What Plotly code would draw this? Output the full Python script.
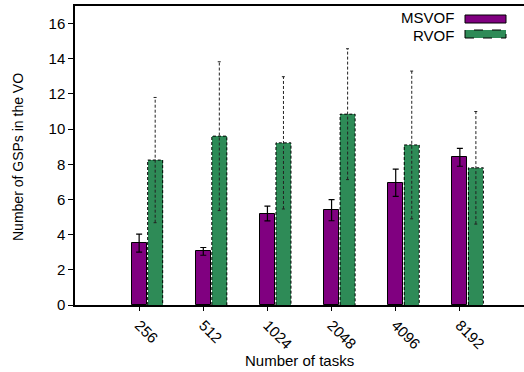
import plotly.graph_objects as go

# Number of tasks (category labels)
tasks = ["256", "512", "1024", "2048", "4096", "8192"]

# Mean number of GSPs in the VO and the half-width of the error bars
msvof_mean = [3.52, 3.05, 5.20, 5.39, 6.95, 8.40]
msvof_err = [0.51, 0.22, 0.42, 0.60, 0.77, 0.51]
rvof_mean = [8.24, 9.60, 9.22, 10.85, 9.10, 7.80]
rvof_err = [3.56, 4.23, 3.76, 3.72, 4.20, 3.20]

PURPLE = "#800080"
GREEN = "#2e8b57"
FONT = "Liberation Sans, Arial, sans-serif"

BAR_W = 0.234
OFFSET = 0.25
CAP = 0.025

W, H = 524, 372
ML, MR, MT, MB = 75, 0, 6, 67

xs_m = [i + 1 for i in range(len(tasks))]
xs_r = [i + 1 + OFFSET for i in range(len(tasks))]

fig = go.Figure()

fig.add_trace(go.Bar(
    x=xs_m, y=msvof_mean, width=BAR_W, name="MSVOF",
    marker=dict(color=PURPLE, line=dict(color="black", width=1)),
    error_y=dict(type="data", array=msvof_err, color="black", thickness=1.2, width=3),
    showlegend=False,
))

fig.add_trace(go.Bar(
    x=xs_r, y=rvof_mean, width=BAR_W, name="RVOF",
    marker=dict(color=GREEN, line=dict(color=GREEN, width=0)),
    showlegend=False,
))

# dashed outline of the RVOF bars
ox, oy = [], []
for x, v in zip(xs_r, rvof_mean):
    l, r = x - BAR_W / 2, x + BAR_W / 2
    ox += [l, l, r, r, None]
    oy += [0, v, v, 0, None]
fig.add_trace(go.Scatter(
    x=ox, y=oy, mode="lines", showlegend=False, hoverinfo="skip",
    line=dict(color="black", width=1, dash="3px,2px"),
))

# dashed error bars of the RVOF series
ex, ey = [], []
for x, v, e in zip(xs_r, rvof_mean, rvof_err):
    ex += [x, x, None, x - CAP, x + CAP, None, x - CAP, x + CAP, None]
    ey += [v - e, v + e, None, v + e, v + e, None, v - e, v - e, None]
fig.add_trace(go.Scatter(
    x=ex, y=ey, mode="lines", showlegend=False, hoverinfo="skip",
    line=dict(color="#222222", width=1, dash="3px,2px"),
))

fig.update_layout(
    width=W, height=H,
    margin=dict(l=ML, r=MR, t=MT, b=MB, autoexpand=False),
    plot_bgcolor="white", paper_bgcolor="white",
    barmode="overlay", bargap=0,
    font=dict(family=FONT, size=15, color="black"),
)

fig.update_xaxes(
    range=[0, 7], tickmode="array", tickvals=xs_m, ticktext=tasks,
    tickangle=45, ticks="outside", ticklen=4, tickwidth=1, tickcolor="black",
    showline=True, linecolor="black", linewidth=1.5, mirror=True,
    showgrid=False, zeroline=False, automargin=False,
)
fig.update_yaxes(
    range=[0, 17], tickmode="array", tickvals=list(range(0, 17, 2)),
    ticks="outside", ticklen=5, tickwidth=1, tickcolor="black",
    showline=True, linecolor="black", linewidth=1.5,
    showgrid=False, zeroline=False, automargin=False,
)

# pixel -> paper coordinate helpers
def px(xp):
    return (xp - ML) / (W - ML - MR)
def py(yp):
    return 1 - (yp - MT) / (H - MT - MB)

# axis titles
fig.add_annotation(
    x=px(299.5), y=py(360), xref="paper", yref="paper", text="Number of tasks",
    showarrow=False, xanchor="center", yanchor="middle", font=dict(size=15),
)
fig.add_annotation(
    x=px(18), y=py(157), xref="paper", yref="paper", text="Number of GSPs in the VO",
    showarrow=False, xanchor="center", yanchor="middle", textangle=-90,
    font=dict(size=14),
)

# key in the upper right corner: label on the left, swatch on the right
for label, yc, ys, fill, dash in [("MSVOF", 18, 19, PURPLE, "solid"),
                                  ("RVOF", 35, 34, GREEN, "dash")]:
    fig.add_annotation(
        x=px(456), y=py(yc), xref="paper", yref="paper", text=label,
        showarrow=False, xanchor="right", yanchor="middle",
        font=dict(size=15),
    )
    fig.add_shape(
        type="rect", xref="paper", yref="paper",
        x0=px(465), x1=px(506), y0=py(ys + 4), y1=py(ys - 4),
        fillcolor=fill, line=dict(color="black", width=1, dash=dash),
    )

fig.write_html("out.html")
